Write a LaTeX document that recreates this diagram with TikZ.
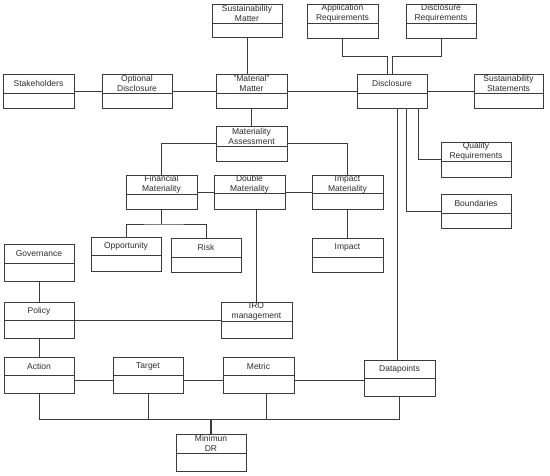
\documentclass[tikz,border=0pt]{standalone}
\usepackage{fontspec}
\setmainfont{Liberation Sans}
\usetikzlibrary{fit}
\definecolor{ln}{RGB}{60,60,60}
\definecolor{tx}{RGB}{45,45,45}
\tikzset{
  umlbox/.style={draw=ln, line width=0.8pt, inner sep=0pt, fill=white},
  umlline/.style={draw=ln, line width=0.8pt},
  lbl/.style={text=tx, font=\fontsize{8.5}{10}\selectfont, align=center, inner sep=0pt},
  conn/.style={draw=ln, line width=0.8pt},
}
\newcommand\umlcls[7]{%
  \coordinate (#1-nw) at (#2,#3);
  \coordinate (#1-se) at (#4,#5);
  \node[umlbox, fit=(#1-nw)(#1-se)] (#1) {};
  \draw[umlline] (#2,#6) -- (#4,#6);
  \node[lbl] (#1-t) at ({(#2+#4)/2},{(#3+#6)/2}) {#7};
}
\begin{document}
\begin{tikzpicture}[x=1pt,y=-1pt]
\useasboundingbox[fill=white] (0,0) rectangle (550,476);
% boxes
\umlcls{sustm}{212}{4}{282}{37}{23}{Sustainability\\Matter}
\umlcls{appreq}{307}{4}{378}{38}{23}{Application\\Requirements}
\umlcls{discreq}{406}{4}{476}{38}{23}{Disclosure\\Requirements}
\umlcls{stake}{3}{74}{74}{108}{93}{Stakeholders}
\umlcls{optd}{102}{74}{172}{108}{93}{Optional\\Disclosure}
\umlcls{matm}{216}{74}{287}{108}{93}{"Material"\\Matter}
\umlcls{disc}{357}{74}{427}{108}{93}{Disclosure}
\umlcls{susts}{474}{74}{543}{108}{93}{Sustainability\\Statements}
\umlcls{matass}{216}{126}{287}{161}{146}{Materiality\\Assessment}
\umlcls{finm}{126}{175}{197}{209}{194}{Financial\\Materiality}
\umlcls{dblm}{214}{175}{285}{209}{193}{Double\\Materiality}
\umlcls{impm}{312}{175}{383}{209}{193}{Impact\\Materiality}
\umlcls{qualr}{441}{142}{511}{177}{161}{Quality\\Requirements}
\umlcls{bound}{441}{194}{511}{228}{213}{Boundaries}
\umlcls{opp}{91}{237}{161}{271}{255}{Opportunity}
\umlcls{risk}{171}{238}{241}{272}{257}{Risk}
\umlcls{impact}{312}{238}{383}{272}{257}{Impact}
\umlcls{gov}{4}{244}{74}{281}{263}{Governance}
\umlcls{policy}{4}{302}{74}{338}{320}{Policy}
\umlcls{iro}{221}{302}{292}{338}{321}{IRO\\management}
\umlcls{action}{4}{357}{74}{393}{375}{Action}
\umlcls{target}{113}{357}{183}{393}{375}{Target}
\umlcls{metric}{223}{357}{294}{393}{375}{Metric}
\umlcls{datap}{364}{360}{435}{396}{378}{Datapoints}
\umlcls{mindr}{176}{434}{246}{471}{453}{Minimun\\DR}
% connectors
\draw[conn] (stake.east) -- (optd.west);
\draw[conn] (optd.east) -- (matm.west);
\draw[conn] (matm.east) -- (disc.west);
\draw[conn] (disc.east) -- (susts.west);
\draw[conn] (sustm.south) -- (sustm.south |- matm.north);
\draw[conn, line width=1.2pt] (matm.south) -- (matass.north);
\draw[conn] (appreq.south) |- ([xshift=-5pt]disc.north |- 0,56) -- ([xshift=-5pt]disc.north);
\draw[conn] (discreq.south) |- (disc.north |- 0,56) -- (disc.north);
\draw[conn] ([xshift=26pt]disc.south) |- (qualr.west);
\draw[conn] ([xshift=14pt]disc.south) |- (bound.west);
\draw[conn] ([xshift=5pt]disc.south) -- ([xshift=5pt]disc.south |- datap.north);
\draw[conn] (matass.west) -| (finm.north);
\draw[conn] (matass.east) -| (impm.north);
\draw[conn] (finm.east) -- (dblm.west);
\draw[conn] (dblm.east) -- (impm.west);
\coordinate (fbus) at (161.5,224);
\draw[conn, line width=1.2pt] (finm.south) -- (fbus);
\draw[conn] (opp.north) |- (fbus) -| (risk.north);
\draw[conn] (impm.south) -- (impact.north);
\draw[conn] (iro.north) -- (iro.north |- dblm.south);
\draw[conn] (gov.south) -- (policy.north);
\draw[conn] (policy.east) -- (iro.west);
\draw[conn] (policy.south) -- (action.north);
\draw[conn] ([yshift=-5pt]action.east) -- ([yshift=-5pt]target.west);
\draw[conn] ([yshift=-5pt]target.east) -- ([yshift=-5pt]metric.west);
\draw[conn] ([yshift=-5pt]metric.east) -- ++(70,0);
\coordinate (bus) at (211,419);
\draw[conn] (action.south) |- (datap.south |- bus) -- (datap.south);
\draw[conn] (target.south) -- (target.south |- bus);
\draw[conn] ([xshift=8pt]metric.south) -- ([xshift=8pt]metric.south |- bus);
\draw[conn, line width=1.2pt] (mindr.north) -- (mindr.north |- bus);
\end{tikzpicture}
\end{document}
